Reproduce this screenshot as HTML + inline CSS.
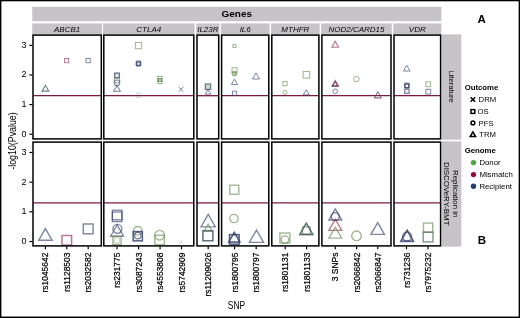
<!DOCTYPE html>
<html><head><meta charset="utf-8"><title>SNP figure</title>
<style>html,body{margin:0;padding:0;background:#fff;}svg{display:block;will-change:transform;}</style>
</head><body>
<svg width="520" height="318" viewBox="0 0 520 318" font-family='"Liberation Sans", sans-serif' fill="#000"><defs><clipPath id="c00"><rect x="33.00" y="35.10" width="68.30" height="103.80"/></clipPath><clipPath id="c01"><rect x="103.80" y="35.10" width="90.00" height="103.80"/></clipPath><clipPath id="c02"><rect x="197.00" y="35.10" width="21.70" height="103.80"/></clipPath><clipPath id="c03"><rect x="221.60" y="35.10" width="47.20" height="103.80"/></clipPath><clipPath id="c04"><rect x="271.80" y="35.10" width="47.10" height="103.80"/></clipPath><clipPath id="c05"><rect x="321.90" y="35.10" width="69.10" height="103.80"/></clipPath><clipPath id="c06"><rect x="394.00" y="35.10" width="46.60" height="103.80"/></clipPath><clipPath id="c10"><rect x="33.00" y="142.10" width="68.30" height="103.80"/></clipPath><clipPath id="c11"><rect x="103.80" y="142.10" width="90.00" height="103.80"/></clipPath><clipPath id="c12"><rect x="197.00" y="142.10" width="21.70" height="103.80"/></clipPath><clipPath id="c13"><rect x="221.60" y="142.10" width="47.20" height="103.80"/></clipPath><clipPath id="c14"><rect x="271.80" y="142.10" width="47.10" height="103.80"/></clipPath><clipPath id="c15"><rect x="321.90" y="142.10" width="69.10" height="103.80"/></clipPath><clipPath id="c16"><rect x="394.00" y="142.10" width="46.60" height="103.80"/></clipPath></defs><rect width="520" height="318" fill="#fff"/><rect x="0.65" y="0.55" width="518.75" height="316.75" fill="none" stroke="#000" stroke-width="1.5"/>
<rect x="32.25" y="6.8" width="409.1" height="14.4" fill="#c6c4c8"/>
<text transform="translate(236.8 17.0) scale(1 0.9)" font-size="10" font-weight="bold" text-anchor="middle">Genes</text>
<rect x="32.25" y="23.4" width="69.80" height="11.3" fill="#c6c4c8"/>
<text x="67.15" y="32.0" font-size="8" font-style="italic" text-anchor="middle">ABCB1</text>
<rect x="103.05" y="23.4" width="91.50" height="11.3" fill="#c6c4c8"/>
<text x="148.80" y="32.0" font-size="8" font-style="italic" text-anchor="middle">CTLA4</text>
<rect x="196.25" y="23.4" width="23.20" height="11.3" fill="#c6c4c8"/>
<text x="207.85" y="32.0" font-size="8" font-style="italic" text-anchor="middle">IL23R</text>
<rect x="220.85" y="23.4" width="48.70" height="11.3" fill="#c6c4c8"/>
<text x="245.20" y="32.0" font-size="8" font-style="italic" text-anchor="middle">IL6</text>
<rect x="271.05" y="23.4" width="48.60" height="11.3" fill="#c6c4c8"/>
<text x="295.35" y="32.0" font-size="8" font-style="italic" text-anchor="middle">MTHFR</text>
<rect x="321.15" y="23.4" width="70.60" height="11.3" fill="#c6c4c8"/>
<text x="356.45" y="32.0" font-size="8" font-style="italic" text-anchor="middle">NOD2/CARD15</text>
<rect x="393.25" y="23.4" width="48.10" height="11.3" fill="#c6c4c8"/>
<text x="417.30" y="32.0" font-size="8" font-style="italic" text-anchor="middle">VDR</text>
<rect x="441.8" y="34.35" width="19.5" height="105.30" fill="#c6c4c8"/>
<rect x="441.8" y="141.35" width="19.5" height="105.30" fill="#c6c4c8"/>
<text transform="translate(448.5 86.60) rotate(90) scale(1 0.92)" font-size="7.7" text-anchor="middle">Literature</text>
<text transform="translate(452.6 193.70) rotate(90) scale(1 0.95)" font-size="7.9" text-anchor="middle">Replication in</text>
<text transform="translate(444.3 193.70) rotate(90) scale(1 0.95)" font-size="7.9" text-anchor="middle">DISCOVeRY-BMT</text>
<line x1="33.00" y1="95.69" x2="101.30" y2="95.69" stroke="#7e1a3e" stroke-width="1.3"/>
<line x1="103.80" y1="95.69" x2="193.80" y2="95.69" stroke="#7e1a3e" stroke-width="1.3"/>
<line x1="197.00" y1="95.69" x2="218.70" y2="95.69" stroke="#7e1a3e" stroke-width="1.3"/>
<line x1="221.60" y1="95.69" x2="268.80" y2="95.69" stroke="#7e1a3e" stroke-width="1.3"/>
<line x1="271.80" y1="95.69" x2="318.90" y2="95.69" stroke="#7e1a3e" stroke-width="1.3"/>
<line x1="321.90" y1="95.69" x2="391.00" y2="95.69" stroke="#7e1a3e" stroke-width="1.3"/>
<line x1="394.00" y1="95.69" x2="440.60" y2="95.69" stroke="#7e1a3e" stroke-width="1.3"/>
<line x1="33.00" y1="202.90" x2="101.30" y2="202.90" stroke="#7e1a3e" stroke-width="1.3"/>
<line x1="103.80" y1="202.90" x2="193.80" y2="202.90" stroke="#7e1a3e" stroke-width="1.3"/>
<line x1="197.00" y1="202.90" x2="218.70" y2="202.90" stroke="#7e1a3e" stroke-width="1.3"/>
<line x1="221.60" y1="202.90" x2="268.80" y2="202.90" stroke="#7e1a3e" stroke-width="1.3"/>
<line x1="271.80" y1="202.90" x2="318.90" y2="202.90" stroke="#7e1a3e" stroke-width="1.3"/>
<line x1="321.90" y1="202.90" x2="391.00" y2="202.90" stroke="#7e1a3e" stroke-width="1.3"/>
<line x1="394.00" y1="202.90" x2="440.60" y2="202.90" stroke="#7e1a3e" stroke-width="1.3"/>
<g clip-path="url(#c00)">
<polygon points="45.40,85.26 42.00,91.14 48.80,91.14" fill="none" stroke="#39456f" stroke-width="1.1" stroke-linejoin="miter" opacity="0.65"/>
<polygon points="45.40,85.44 42.10,91.16 48.70,91.16" fill="none" stroke="#6a8e55" stroke-width="1.0" stroke-linejoin="miter" opacity="0.35"/>
<rect x="64.60" y="58.50" width="4.20" height="4.20" fill="none" stroke="#942a52" stroke-width="1.0" opacity="0.65"/>
<rect x="86.00" y="58.50" width="4.20" height="4.20" fill="none" stroke="#39456f" stroke-width="1.0" opacity="0.65"/>
</g>
<g clip-path="url(#c01)">
<rect x="114.70" y="72.90" width="4.60" height="4.60" fill="none" stroke="#39456f" stroke-width="1.1" opacity="0.65"/>
<rect x="114.80" y="73.80" width="4.40" height="4.40" fill="none" stroke="#39456f" stroke-width="1.0" opacity="0.65"/>
<circle cx="117.00" cy="80.20" r="2.80" fill="none" stroke="#6a8e55" stroke-width="1.1" opacity="0.65"/>
<circle cx="117.00" cy="82.80" r="2.80" fill="none" stroke="#39456f" stroke-width="1.1" opacity="0.65"/>
<polygon points="117.00,85.54 113.70,91.26 120.30,91.26" fill="none" stroke="#39456f" stroke-width="1.1" stroke-linejoin="miter" opacity="0.65"/>
<rect x="135.40" y="42.50" width="6.20" height="6.20" fill="none" stroke="#6a8e55" stroke-width="1.0" opacity="0.65"/>
<rect x="136.30" y="61.10" width="4.40" height="4.40" fill="none" stroke="#39456f" stroke-width="1.1" opacity="0.65"/>
<circle cx="138.50" cy="64.00" r="2.30" fill="none" stroke="#39456f" stroke-width="1.1" opacity="0.65"/>
<rect x="137.00" y="62.10" width="3.00" height="3.00" fill="none" stroke="#39456f" stroke-width="1.0" opacity="0.65"/>
<circle cx="138.30" cy="95.30" r="2.50" fill="none" stroke="#6a8e55" stroke-width="1.0" opacity="0.35"/>
<rect x="157.70" y="76.40" width="4.40" height="4.40" fill="none" stroke="#6a8e55" stroke-width="1.1" opacity="0.65"/>
<circle cx="159.90" cy="81.40" r="2.30" fill="none" stroke="#6a8e55" stroke-width="1.1" opacity="0.65"/>
<rect x="158.30" y="78.40" width="3.20" height="3.20" fill="none" stroke="#6a8e55" stroke-width="1.0" opacity="0.65"/>
<path d="M178.70,87.00L183.30,91.60M178.70,91.60L183.30,87.00" stroke="#6a8e55" stroke-width="1.0" opacity="0.65"/>
<path d="M178.70,87.00L183.30,91.60M178.70,91.60L183.30,87.00" stroke="#39456f" stroke-width="1.0" opacity="0.35"/>
</g>
<g clip-path="url(#c02)">
<rect x="205.30" y="83.90" width="5.40" height="5.40" fill="none" stroke="#6a8e55" stroke-width="1.0" opacity="0.65"/>
<rect x="205.30" y="84.10" width="5.40" height="5.40" fill="none" stroke="#39456f" stroke-width="1.0" opacity="0.65"/>
<rect x="205.70" y="84.40" width="4.60" height="4.60" fill="#6a8e55" opacity="0.35"/>
<polygon points="208.00,89.46 205.30,94.14 210.70,94.14" fill="none" stroke="#39456f" stroke-width="1.0" stroke-linejoin="miter" opacity="0.65"/>
</g>
<g clip-path="url(#c03)">
<circle cx="234.40" cy="45.90" r="1.70" fill="none" stroke="#6a8e55" stroke-width="1.1" opacity="0.7"/>
<rect x="232.00" y="67.70" width="5.00" height="5.00" fill="none" stroke="#6a8e55" stroke-width="1.0" opacity="0.65"/>
<circle cx="234.50" cy="73.40" r="2.30" fill="none" stroke="#6a8e55" stroke-width="1.1" opacity="0.65"/>
<rect x="232.90" y="72.00" width="3.20" height="3.20" fill="#6a8e55" opacity="0.45"/>
<polygon points="234.50,79.12 231.40,84.48 237.60,84.48" fill="none" stroke="#39456f" stroke-width="1.0" stroke-linejoin="miter" opacity="0.65"/>
<rect x="232.50" y="91.20" width="4.20" height="4.20" fill="none" stroke="#39456f" stroke-width="1.0" opacity="0.65"/>
<polygon points="256.00,72.97 252.50,79.03 259.50,79.03" fill="none" stroke="#39456f" stroke-width="1.0" stroke-linejoin="miter" opacity="0.65"/>
</g>
<g clip-path="url(#c04)">
<rect x="282.90" y="81.50" width="4.20" height="4.20" fill="none" stroke="#6a8e55" stroke-width="1.0" opacity="0.65"/>
<circle cx="285.00" cy="92.40" r="2.00" fill="none" stroke="#6a8e55" stroke-width="1.0" opacity="0.65"/>
<rect x="303.10" y="71.50" width="6.60" height="6.60" fill="none" stroke="#6a8e55" stroke-width="1.0" opacity="0.65"/>
<polygon points="306.30,89.60 303.30,94.80 309.30,94.80" fill="none" stroke="#39456f" stroke-width="1.0" stroke-linejoin="miter" opacity="0.65"/>
</g>
<g clip-path="url(#c05)">
<polygon points="335.20,41.36 331.80,47.24 338.60,47.24" fill="none" stroke="#942a52" stroke-width="1.1" stroke-linejoin="miter" opacity="0.65"/>
<polygon points="335.20,80.44 331.90,86.16 338.50,86.16" fill="none" stroke="#942a52" stroke-width="1.1" stroke-linejoin="miter" opacity="0.65"/>
<polygon points="335.20,80.83 332.00,86.37 338.40,86.37" fill="none" stroke="#39456f" stroke-width="1.0" stroke-linejoin="miter" opacity="0.65"/>
<polygon points="335.20,81.89 333.00,85.71 337.40,85.71" fill="none" stroke="#942a52" stroke-width="1.0" stroke-linejoin="miter" opacity="0.65"/>
<circle cx="335.20" cy="91.30" r="2.30" fill="none" stroke="#39456f" stroke-width="1.0" opacity="0.65"/>
<circle cx="356.40" cy="79.10" r="2.80" fill="none" stroke="#6a8e55" stroke-width="1.0" opacity="0.65"/>
<polygon points="377.80,91.68 374.20,97.92 381.40,97.92" fill="none" stroke="#39456f" stroke-width="1.0" stroke-linejoin="miter" opacity="0.65"/>
<polygon points="377.80,91.88 374.20,98.12 381.40,98.12" fill="none" stroke="#942a52" stroke-width="1.0" stroke-linejoin="miter" opacity="0.35"/>
</g>
<g clip-path="url(#c06)">
<polygon points="406.80,65.34 403.50,71.06 410.10,71.06" fill="none" stroke="#39456f" stroke-width="1.0" stroke-linejoin="miter" opacity="0.65"/>
<rect x="404.70" y="83.20" width="4.40" height="4.40" fill="none" stroke="#39456f" stroke-width="1.1" opacity="0.65"/>
<circle cx="406.90" cy="85.80" r="2.20" fill="none" stroke="#39456f" stroke-width="1.1" opacity="0.65"/>
<rect x="405.10" y="84.20" width="3.60" height="3.60" fill="none" stroke="#39456f" stroke-width="1.0" opacity="0.65"/>
<rect x="404.70" y="89.20" width="4.40" height="4.40" fill="none" stroke="#39456f" stroke-width="1.0" opacity="0.65"/>
<rect x="404.90" y="88.80" width="4.00" height="4.00" fill="none" stroke="#39456f" stroke-width="1.0" opacity="0.3"/>
<rect x="425.90" y="81.90" width="4.80" height="4.80" fill="none" stroke="#6a8e55" stroke-width="1.0" opacity="0.65"/>
<rect x="425.90" y="89.30" width="4.80" height="4.80" fill="none" stroke="#39456f" stroke-width="1.0" opacity="0.65"/>
</g>
<g clip-path="url(#c10)">
<polygon points="45.40,228.60 38.70,240.20 52.10,240.20" fill="none" stroke="#39456f" stroke-width="1.45" stroke-linejoin="miter" opacity="0.65"/>
<rect x="62.00" y="235.50" width="9.60" height="9.60" fill="none" stroke="#942a52" stroke-width="1.45" opacity="0.65"/>
<rect x="83.30" y="224.00" width="9.80" height="9.80" fill="none" stroke="#39456f" stroke-width="1.45" opacity="0.65"/>
</g>
<g clip-path="url(#c11)">
<rect x="112.40" y="210.20" width="9.60" height="9.60" fill="none" stroke="#39456f" stroke-width="1.35" opacity="0.65"/>
<rect x="112.40" y="212.00" width="9.60" height="9.60" fill="none" stroke="#39456f" stroke-width="1.35" opacity="0.65"/>
<circle cx="117.40" cy="228.80" r="4.50" fill="none" stroke="#39456f" stroke-width="1.35" opacity="0.65"/>
<polygon points="117.10,224.97 110.60,236.23 123.60,236.23" fill="none" stroke="#39456f" stroke-width="1.35" stroke-linejoin="miter" opacity="0.65"/>
<rect x="112.90" y="236.30" width="8.20" height="8.20" fill="none" stroke="#6a8e55" stroke-width="1.35" opacity="0.65"/>
<rect x="114.50" y="237.90" width="5.00" height="5.00" fill="none" stroke="#6a8e55" stroke-width="1.35" opacity="0.3"/>
<circle cx="137.80" cy="230.80" r="4.30" fill="none" stroke="#6a8e55" stroke-width="1.35" opacity="0.65"/>
<rect x="133.20" y="231.40" width="9.20" height="9.20" fill="none" stroke="#39456f" stroke-width="1.35" opacity="0.65"/>
<rect x="133.20" y="231.80" width="9.20" height="9.20" fill="none" stroke="#39456f" stroke-width="1.35" opacity="0.65"/>
<circle cx="137.80" cy="235.60" r="3.20" fill="none" stroke="#39456f" stroke-width="1.35" opacity="0.65"/>
<circle cx="159.60" cy="235.20" r="4.80" fill="none" stroke="#6a8e55" stroke-width="1.35" opacity="0.65"/>
<rect x="154.80" y="235.20" width="9.60" height="9.60" fill="none" stroke="#6a8e55" stroke-width="1.35" opacity="0.65"/>
<path d="M179.00,240.40L182.60,244.00M179.00,244.00L182.60,240.40" stroke="#6a8e55" stroke-width="1.0" opacity="0.3"/>
</g>
<g clip-path="url(#c12)">
<polygon points="208.20,214.36 201.00,226.84 215.40,226.84" fill="none" stroke="#39456f" stroke-width="1.35" stroke-linejoin="miter" opacity="0.65"/>
<polygon points="208.10,224.14 204.10,231.06 212.10,231.06" fill="none" stroke="#6a8e55" stroke-width="1.35" stroke-linejoin="miter" opacity="0.65"/>
<rect x="202.90" y="230.60" width="10.00" height="10.00" fill="none" stroke="#6a8e55" stroke-width="1.35" opacity="0.65"/>
<rect x="202.90" y="230.80" width="10.00" height="10.00" fill="none" stroke="#39456f" stroke-width="1.35" opacity="0.65"/>
</g>
<g clip-path="url(#c13)">
<rect x="229.80" y="185.20" width="9.00" height="9.00" fill="none" stroke="#6a8e55" stroke-width="1.35" opacity="0.65"/>
<circle cx="234.00" cy="218.50" r="4.10" fill="none" stroke="#6a8e55" stroke-width="1.35" opacity="0.65"/>
<rect x="229.50" y="234.50" width="9.60" height="9.60" fill="none" stroke="#39456f" stroke-width="1.45" opacity="0.65"/>
<polygon points="234.30,232.15 228.70,241.85 239.90,241.85" fill="none" stroke="#39456f" stroke-width="1.45" stroke-linejoin="miter" opacity="0.65"/>
<polygon points="234.30,232.55 228.70,242.25 239.90,242.25" fill="none" stroke="#39456f" stroke-width="1.35" stroke-linejoin="miter" opacity="0.65"/>
<rect x="229.50" y="234.80" width="9.60" height="9.60" fill="none" stroke="#39456f" stroke-width="1.35" opacity="0.65"/>
<polygon points="256.50,230.05 249.40,242.35 263.60,242.35" fill="none" stroke="#39456f" stroke-width="1.35" stroke-linejoin="miter" opacity="0.65"/>
</g>
<g clip-path="url(#c14)">
<rect x="279.90" y="233.00" width="10.00" height="10.00" fill="none" stroke="#6a8e55" stroke-width="1.35" opacity="0.65"/>
<circle cx="284.90" cy="239.60" r="3.80" fill="none" stroke="#6a8e55" stroke-width="1.35" opacity="0.65"/>
<rect x="302.50" y="226.80" width="7.60" height="7.60" fill="none" stroke="#6a8e55" stroke-width="1.35" opacity="0.65"/>
<polygon points="306.30,223.08 299.70,234.52 312.90,234.52" fill="none" stroke="#6a8e55" stroke-width="1.35" stroke-linejoin="miter" opacity="0.65"/>
<polygon points="306.30,223.08 299.70,234.52 312.90,234.52" fill="none" stroke="#39456f" stroke-width="1.35" stroke-linejoin="miter" opacity="0.65"/>
</g>
<g clip-path="url(#c15)">
<polygon points="335.30,208.86 328.90,219.94 341.70,219.94" fill="none" stroke="#39456f" stroke-width="1.45" stroke-linejoin="miter" opacity="0.65"/>
<circle cx="335.30" cy="216.60" r="4.00" fill="none" stroke="#39456f" stroke-width="1.45" opacity="0.65"/>
<polygon points="335.30,219.26 328.90,230.34 341.70,230.34" fill="none" stroke="#942a52" stroke-width="1.35" stroke-linejoin="miter" opacity="0.65"/>
<polygon points="335.30,227.06 328.90,238.14 341.70,238.14" fill="none" stroke="#6a8e55" stroke-width="1.35" stroke-linejoin="miter" opacity="0.65"/>
<circle cx="356.50" cy="235.80" r="4.80" fill="none" stroke="#6a8e55" stroke-width="1.35" opacity="0.65"/>
<polygon points="377.70,222.61 370.90,234.39 384.50,234.39" fill="none" stroke="#39456f" stroke-width="1.35" stroke-linejoin="miter" opacity="0.65"/>
</g>
<g clip-path="url(#c16)">
<polygon points="407.10,230.04 400.80,240.96 413.40,240.96" fill="none" stroke="#39456f" stroke-width="1.5" stroke-linejoin="miter" opacity="0.65"/>
<circle cx="407.10" cy="236.60" r="4.50" fill="none" stroke="#39456f" stroke-width="1.5" opacity="0.65"/>
<polygon points="407.10,230.54 400.80,241.46 413.40,241.46" fill="none" stroke="#39456f" stroke-width="1.35" stroke-linejoin="miter" opacity="0.65"/>
<rect x="423.50" y="223.10" width="9.20" height="9.20" fill="none" stroke="#6a8e55" stroke-width="1.35" opacity="0.65"/>
<rect x="423.20" y="232.10" width="9.80" height="9.80" fill="none" stroke="#6a8e55" stroke-width="1.35" opacity="0.65"/>
<rect x="423.20" y="232.10" width="9.80" height="9.80" fill="none" stroke="#39456f" stroke-width="1.0" opacity="0.35"/>
</g>
<rect x="33.00" y="35.10" width="68.30" height="103.80" fill="none" stroke="#000" stroke-width="1.5"/>
<rect x="103.80" y="35.10" width="90.00" height="103.80" fill="none" stroke="#000" stroke-width="1.5"/>
<rect x="197.00" y="35.10" width="21.70" height="103.80" fill="none" stroke="#000" stroke-width="1.5"/>
<rect x="221.60" y="35.10" width="47.20" height="103.80" fill="none" stroke="#000" stroke-width="1.5"/>
<rect x="271.80" y="35.10" width="47.10" height="103.80" fill="none" stroke="#000" stroke-width="1.5"/>
<rect x="321.90" y="35.10" width="69.10" height="103.80" fill="none" stroke="#000" stroke-width="1.5"/>
<rect x="394.00" y="35.10" width="46.60" height="103.80" fill="none" stroke="#000" stroke-width="1.5"/>
<rect x="33.00" y="142.10" width="68.30" height="103.80" fill="none" stroke="#000" stroke-width="1.5"/>
<rect x="103.80" y="142.10" width="90.00" height="103.80" fill="none" stroke="#000" stroke-width="1.5"/>
<rect x="197.00" y="142.10" width="21.70" height="103.80" fill="none" stroke="#000" stroke-width="1.5"/>
<rect x="221.60" y="142.10" width="47.20" height="103.80" fill="none" stroke="#000" stroke-width="1.5"/>
<rect x="271.80" y="142.10" width="47.10" height="103.80" fill="none" stroke="#000" stroke-width="1.5"/>
<rect x="321.90" y="142.10" width="69.10" height="103.80" fill="none" stroke="#000" stroke-width="1.5"/>
<rect x="394.00" y="142.10" width="46.60" height="103.80" fill="none" stroke="#000" stroke-width="1.5"/>
<line x1="29.4" y1="134.20" x2="32.3" y2="134.20" stroke="#000" stroke-width="1.2"/>
<text x="26.5" y="136.65" font-size="9" text-anchor="end">0</text>
<line x1="29.4" y1="104.60" x2="32.3" y2="104.60" stroke="#000" stroke-width="1.2"/>
<text x="26.5" y="107.05" font-size="9" text-anchor="end">1</text>
<line x1="29.4" y1="75.00" x2="32.3" y2="75.00" stroke="#000" stroke-width="1.2"/>
<text x="26.5" y="77.45" font-size="9" text-anchor="end">2</text>
<line x1="29.4" y1="45.40" x2="32.3" y2="45.40" stroke="#000" stroke-width="1.2"/>
<text x="26.5" y="47.85" font-size="9" text-anchor="end">3</text>
<line x1="29.4" y1="241.50" x2="32.3" y2="241.50" stroke="#000" stroke-width="1.2"/>
<text x="26.5" y="243.95" font-size="9" text-anchor="end">0</text>
<line x1="29.4" y1="211.83" x2="32.3" y2="211.83" stroke="#000" stroke-width="1.2"/>
<text x="26.5" y="214.28" font-size="9" text-anchor="end">1</text>
<line x1="29.4" y1="182.16" x2="32.3" y2="182.16" stroke="#000" stroke-width="1.2"/>
<text x="26.5" y="184.61" font-size="9" text-anchor="end">2</text>
<line x1="29.4" y1="152.49" x2="32.3" y2="152.49" stroke="#000" stroke-width="1.2"/>
<text x="26.5" y="154.94" font-size="9" text-anchor="end">3</text>
<line x1="45.40" y1="246.6" x2="45.40" y2="249.3" stroke="#000" stroke-width="1.2"/>
<text transform="translate(48.40 252.6) rotate(-90)" font-size="8.45" text-anchor="end" stroke="#000" stroke-width="0.22">rs1045642</text>
<line x1="66.80" y1="246.6" x2="66.80" y2="249.3" stroke="#000" stroke-width="1.2"/>
<text transform="translate(69.80 252.6) rotate(-90)" font-size="8.45" text-anchor="end" stroke="#000" stroke-width="0.22">rs1128503</text>
<line x1="88.20" y1="246.6" x2="88.20" y2="249.3" stroke="#000" stroke-width="1.2"/>
<text transform="translate(91.20 252.6) rotate(-90)" font-size="8.45" text-anchor="end" stroke="#000" stroke-width="0.22">rs2032582</text>
<line x1="117.00" y1="246.6" x2="117.00" y2="249.3" stroke="#000" stroke-width="1.2"/>
<text transform="translate(120.00 252.6) rotate(-90)" font-size="8.45" text-anchor="end" stroke="#000" stroke-width="0.22">rs231775</text>
<line x1="138.60" y1="246.6" x2="138.60" y2="249.3" stroke="#000" stroke-width="1.2"/>
<text transform="translate(141.60 252.6) rotate(-90)" font-size="8.45" text-anchor="end" stroke="#000" stroke-width="0.22">rs3087243</text>
<line x1="160.10" y1="246.6" x2="160.10" y2="249.3" stroke="#000" stroke-width="1.2"/>
<text transform="translate(163.10 252.6) rotate(-90)" font-size="8.45" text-anchor="end" stroke="#000" stroke-width="0.22">rs4553808</text>
<line x1="181.50" y1="246.6" x2="181.50" y2="249.3" stroke="#000" stroke-width="1.2"/>
<text transform="translate(184.50 252.6) rotate(-90)" font-size="8.45" text-anchor="end" stroke="#000" stroke-width="0.22">rs5742909</text>
<line x1="208.20" y1="246.6" x2="208.20" y2="249.3" stroke="#000" stroke-width="1.2"/>
<text transform="translate(211.20 252.6) rotate(-90)" font-size="8.45" text-anchor="end" stroke="#000" stroke-width="0.22">rs11209026</text>
<line x1="234.60" y1="246.6" x2="234.60" y2="249.3" stroke="#000" stroke-width="1.2"/>
<text transform="translate(237.60 252.6) rotate(-90)" font-size="8.45" text-anchor="end" stroke="#000" stroke-width="0.22">rs1800795</text>
<line x1="256.20" y1="246.6" x2="256.20" y2="249.3" stroke="#000" stroke-width="1.2"/>
<text transform="translate(259.20 252.6) rotate(-90)" font-size="8.45" text-anchor="end" stroke="#000" stroke-width="0.22">rs1800797</text>
<line x1="285.20" y1="246.6" x2="285.20" y2="249.3" stroke="#000" stroke-width="1.2"/>
<text transform="translate(288.20 252.6) rotate(-90)" font-size="8.45" text-anchor="end" stroke="#000" stroke-width="0.22">rs1801131</text>
<line x1="306.60" y1="246.6" x2="306.60" y2="249.3" stroke="#000" stroke-width="1.2"/>
<text transform="translate(309.60 252.6) rotate(-90)" font-size="8.45" text-anchor="end" stroke="#000" stroke-width="0.22">rs1801133</text>
<line x1="335.30" y1="246.6" x2="335.30" y2="249.3" stroke="#000" stroke-width="1.2"/>
<text transform="translate(338.30 252.6) rotate(-90)" font-size="8.45" text-anchor="end" stroke="#000" stroke-width="0.22">3 SNPs</text>
<line x1="356.60" y1="246.6" x2="356.60" y2="249.3" stroke="#000" stroke-width="1.2"/>
<text transform="translate(359.60 252.6) rotate(-90)" font-size="8.45" text-anchor="end" stroke="#000" stroke-width="0.22">rs2066842</text>
<line x1="377.80" y1="246.6" x2="377.80" y2="249.3" stroke="#000" stroke-width="1.2"/>
<text transform="translate(380.80 252.6) rotate(-90)" font-size="8.45" text-anchor="end" stroke="#000" stroke-width="0.22">rs2066847</text>
<line x1="406.50" y1="246.6" x2="406.50" y2="249.3" stroke="#000" stroke-width="1.2"/>
<text transform="translate(409.50 252.6) rotate(-90)" font-size="8.45" text-anchor="end" stroke="#000" stroke-width="0.22">rs731236</text>
<line x1="428.00" y1="246.6" x2="428.00" y2="249.3" stroke="#000" stroke-width="1.2"/>
<text transform="translate(431.00 252.6) rotate(-90)" font-size="8.45" text-anchor="end" stroke="#000" stroke-width="0.22">rs7975232</text>
<text transform="translate(15.9 141.0) rotate(-90) scale(0.92 1.1)" font-size="9.6" text-anchor="middle">-log10(Pvalue)</text>
<text transform="translate(236.5 308.8) scale(0.92 1.12)" font-size="9.2" text-anchor="middle">SNP</text>
<text x="481.7" y="23.2" font-size="11.5" font-weight="bold" text-anchor="middle">A</text>
<text x="481.8" y="244.0" font-size="11.5" font-weight="bold" text-anchor="middle">B</text>
<text x="464.7" y="90.3" font-size="7.75" font-weight="bold">Outcome</text>
<path d="M470.59999999999997,97.2L475.2,101.8M470.59999999999997,101.8L475.2,97.2" stroke="#000" stroke-width="1.5"/>
<rect x="471.0" y="109.6" width="3.8" height="3.8" fill="none" stroke="#000" stroke-width="1.5"/>
<circle cx="472.9" cy="122.9" r="1.9" fill="none" stroke="#000" stroke-width="1.5"/>
<polygon points="472.9,131.9 470.2,136.5 475.59999999999997,136.5" fill="none" stroke="#000" stroke-width="1.5" stroke-linejoin="miter"/>
<text x="478.6" y="102.20" font-size="7.75">DRM</text>
<text x="477.6" y="114.20" font-size="7.75">OS</text>
<text x="478.6" y="125.60" font-size="7.75">PFS</text>
<text x="479.2" y="137.00" font-size="7.75">TRM</text>
<text x="464.7" y="153.4" font-size="7.8" font-weight="bold">Genome</text>
<circle cx="473.5" cy="162.6" r="2.7" fill="#4da640"/>
<text x="479.4" y="165.30" font-size="7.8">Donor</text>
<circle cx="473.5" cy="174.6" r="2.7" fill="#9a0a35"/>
<text x="479.4" y="177.30" font-size="7.8">Mismatch</text>
<circle cx="473.5" cy="186.2" r="2.7" fill="#263d70"/>
<text x="479.4" y="188.90" font-size="7.8">Recipient</text></svg>
</body></html>
